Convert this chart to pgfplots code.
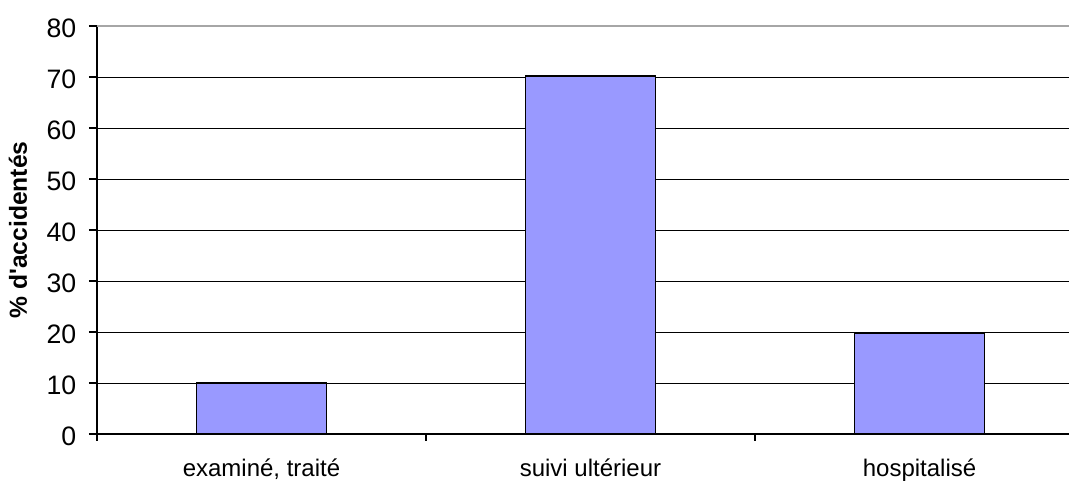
\documentclass[border=0pt]{standalone}
\usepackage{pgfplots}
\pgfplotsset{compat=1.18}
\usepackage{fontspec}
\setmainfont{Liberation Sans}[Ligatures=TeXOff]
\definecolor{barblue}{HTML}{9999FF}
\begin{document}
\begin{tikzpicture}[x=1pt,y=1pt]
\useasboundingbox (0,0) rectangle (801.75,365.25);
\begin{axis}[
  at={(72.75pt,39.75pt)}, anchor=origin,
  scale only axis, width=740.25pt, height=306pt,
  xmin=0, xmax=3, ymin=0, ymax=80,
  axis lines*=left,
  axis line style={black, line width=0.9pt},
  xtick={0.5,1.5,2.5},
  xticklabels={{examiné, traité},{suivi ultérieur},{hospitalisé}},
  major x tick style={draw=none},
  minor xtick={0,1,2,3},
  minor x tick style={black, line width=0.9pt},
  minor tick length=5pt,
  ytick={0,10,...,70},
  extra y ticks={80},
  extra y tick style={grid style={gray!70, line width=1.2pt}},
  ymajorgrids,
  grid style={black, line width=0.75pt},
  tick align=outside,
  tick pos=left,
  major tick length=6pt,
  y tick style={black, line width=0.9pt},
  xticklabel style={font=\fontsize{18}{20}\selectfont, yshift=-9pt},
  yticklabel style={font=\fontsize{20}{22}\selectfont, xshift=-6pt, yshift=-2pt},
  /pgf/number format/assume math mode=true,
  ylabel={\textbf{\% d'accidentés}},
  every axis y label/.style={at={(axis description cs:-0.080,0.5)}, rotate=90, anchor=center, font=\fontsize{18.5}{20}\selectfont},
  clip=false,
]
\addplot[ybar, bar width=0.395, fill=barblue, draw=black, line width=0.9pt] coordinates {(0.5,10) (1.5,70.2) (2.5,19.8)};
\end{axis}
\end{tikzpicture}
\end{document}
